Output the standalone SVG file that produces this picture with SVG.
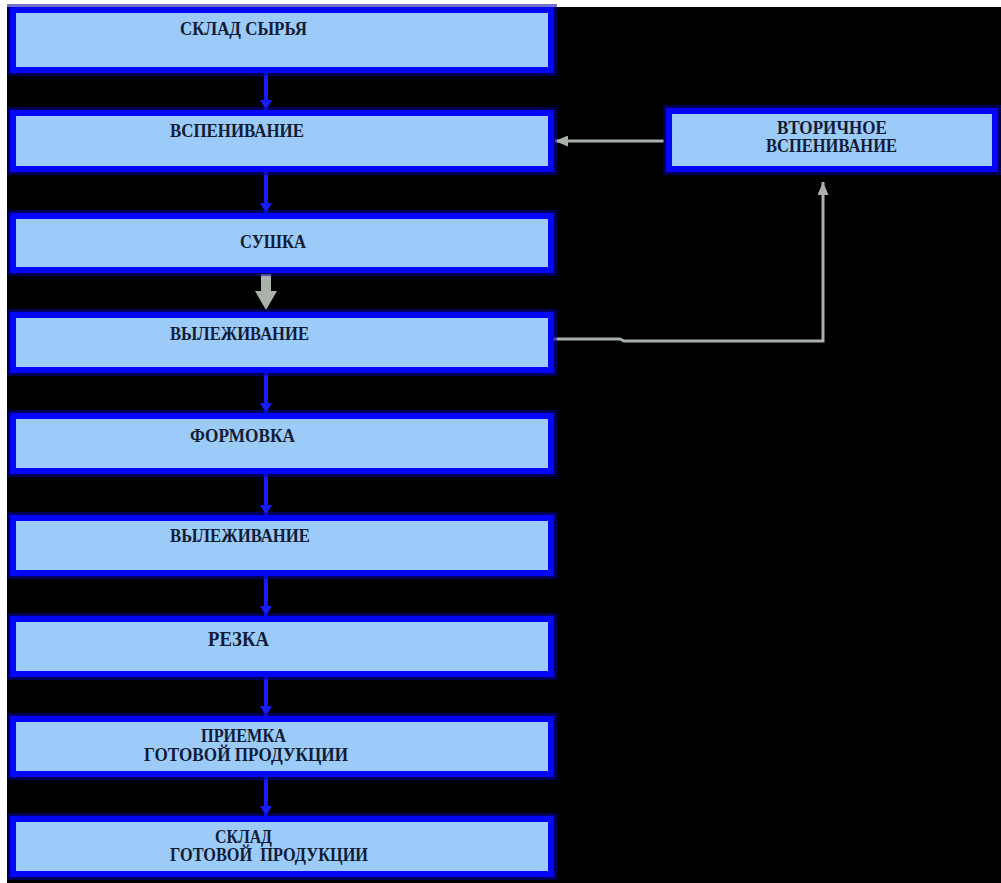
<svg xmlns="http://www.w3.org/2000/svg" width="1001" height="883" viewBox="0 0 1001 883">
<defs>
<style>
.box{fill:#9CCBFA;stroke:#0505FA;stroke-width:6}
.glow{fill:none;stroke:#0000A0;stroke-width:12;opacity:0.55}
.t{font-family:"Liberation Serif","Times New Roman",serif;font-weight:bold;font-size:18px;fill:#111C36}
.blue{stroke:#1A1AFF;stroke-width:4;fill:none}
.gray{stroke:#A9B1A9;stroke-width:3;fill:none}
</style>
<marker id="mb" viewBox="0 0 10 12" refX="10" refY="6" markerWidth="10" markerHeight="12" markerUnits="userSpaceOnUse" orient="auto">
<path d="M0,0 L10,6 L0,12 z" fill="#1A1AFF"/>
</marker>
<marker id="mg" viewBox="0 0 13 11" refX="13" refY="5.5" markerWidth="13" markerHeight="11" markerUnits="userSpaceOnUse" orient="auto">
<path d="M0,0 L13,5.5 L0,11 z" fill="#A9B1A9"/>
</marker>
</defs>
<rect x="0" y="0" width="1001" height="883" fill="#FFFFFF"/>
<rect x="7" y="7" width="994" height="876" fill="#000000"/>

<g id="connectors">
<path class="blue" d="M266,73 L266,110" marker-end="url(#mb)"/>
<path class="blue" d="M266,172 L266,213" marker-end="url(#mb)"/>
<path d="M261,274 L271,274 L271,291 L277,291 L266,310 L255,291 L261,291 z" fill="#A9B1A9"/>
<path class="blue" d="M266,373 L266,413" marker-end="url(#mb)"/>
<path class="blue" d="M266,474 L266,515" marker-end="url(#mb)"/>
<path class="blue" d="M266,576 L266,616" marker-end="url(#mb)"/>
<path class="blue" d="M266,677 L266,716" marker-end="url(#mb)"/>
<path class="blue" d="M266,777 L266,816" marker-end="url(#mb)"/>
<path class="gray" d="M664,141 L555,141" marker-end="url(#mg)"/>
<path class="gray" d="M553,339 L620,339 L624,341 L823,341 L823,182" marker-end="url(#mg)"/>
</g>

<g id="n1">
<rect class="glow" x="13" y="10" width="538" height="60"/>
<rect class="box" x="13" y="10" width="538" height="60"/>
<text class="t" x="180" y="35" textLength="127" lengthAdjust="spacingAndGlyphs">СКЛАД СЫРЬЯ</text>
</g>
<g id="n2">
<rect class="glow" x="13" y="113" width="538" height="56"/>
<rect class="box" x="13" y="113" width="538" height="56"/>
<text class="t" x="170" y="137" textLength="134" lengthAdjust="spacingAndGlyphs">ВСПЕНИВАНИЕ</text>
</g>
<g id="n3">
<rect class="glow" x="13" y="216" width="538" height="54"/>
<rect class="box" x="13" y="216" width="538" height="54"/>
<text class="t" x="240" y="248" textLength="66" lengthAdjust="spacingAndGlyphs">СУШКА</text>
</g>
<g id="n4">
<rect class="glow" x="13" y="315" width="538" height="55"/>
<rect class="box" x="13" y="315" width="538" height="55"/>
<text class="t" x="170" y="340" textLength="139" lengthAdjust="spacingAndGlyphs">ВЫЛЕЖИВАНИЕ</text>
</g>
<g id="n5">
<rect class="glow" x="13" y="416" width="538" height="55"/>
<rect class="box" x="13" y="416" width="538" height="55"/>
<text class="t" x="190" y="442" textLength="105" lengthAdjust="spacingAndGlyphs">ФОРМОВКА</text>
</g>
<g id="n6">
<rect class="glow" x="13" y="518" width="538" height="55"/>
<rect class="box" x="13" y="518" width="538" height="55"/>
<text class="t" x="170" y="542" textLength="140" lengthAdjust="spacingAndGlyphs">ВЫЛЕЖИВАНИЕ</text>
</g>
<g id="n7">
<rect class="glow" x="13" y="619" width="538" height="55"/>
<rect class="box" x="13" y="619" width="538" height="55"/>
<text class="t" x="208" y="646" textLength="61" lengthAdjust="spacingAndGlyphs" style="font-size:20px">РЕЗКА</text>
</g>
<g id="n8">
<rect class="glow" x="13" y="719" width="538" height="55"/>
<rect class="box" x="13" y="719" width="538" height="55"/>
<text class="t" x="201" y="742" textLength="85" lengthAdjust="spacingAndGlyphs">ПРИЕМКА</text>
<text class="t" x="144" y="761" textLength="204" lengthAdjust="spacingAndGlyphs">ГОТОВОЙ ПРОДУКЦИИ</text>
</g>
<g id="n9">
<rect class="glow" x="13" y="819" width="538" height="55"/>
<rect class="box" x="13" y="819" width="538" height="55"/>
<text class="t" x="215" y="843" textLength="57" lengthAdjust="spacingAndGlyphs">СКЛАД</text>
<text class="t" x="170" y="861" textLength="198" lengthAdjust="spacingAndGlyphs" xml:space="preserve">ГОТОВОЙ  ПРОДУКЦИИ</text>
</g>
<g id="n10">
<rect class="glow" x="669" y="111" width="326" height="58"/>
<rect class="box" x="669" y="111" width="326" height="58"/>
<text class="t" x="777" y="134" textLength="110" lengthAdjust="spacingAndGlyphs">ВТОРИЧНОЕ</text>
<text class="t" x="766" y="152" textLength="131" lengthAdjust="spacingAndGlyphs">ВСПЕНИВАНИЕ</text>
</g>
</svg>
